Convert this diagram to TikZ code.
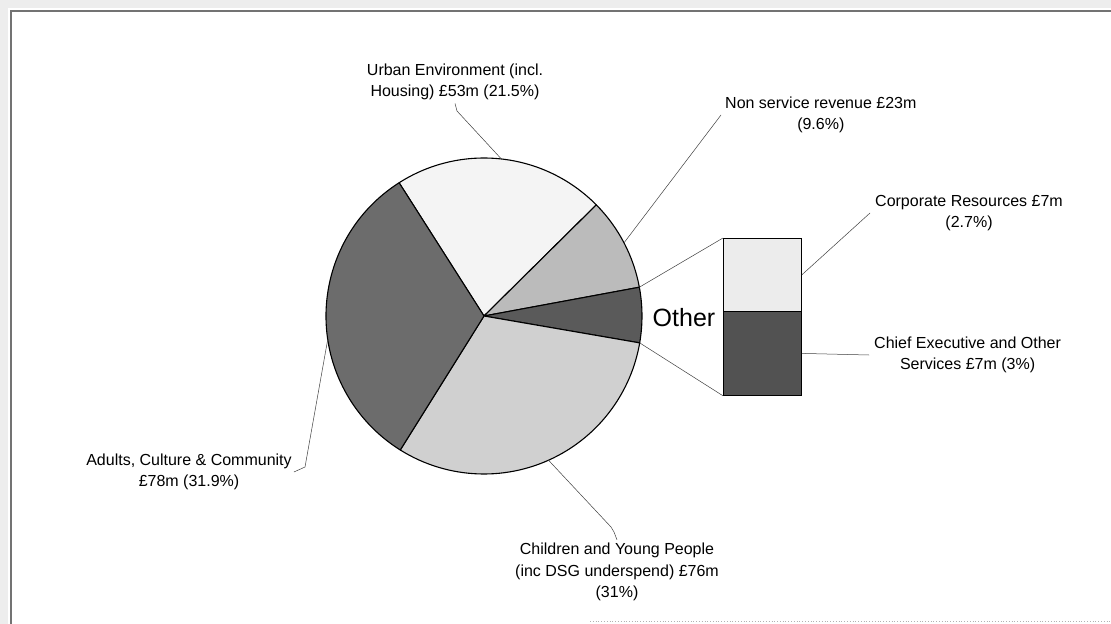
\documentclass[tikz,border=0pt]{standalone}
\usepackage{fontspec}
\setmainfont{Liberation Sans}
\definecolor{urbanc}{HTML}{F4F4F4}
\definecolor{nonsvcc}{HTML}{BBBBBB}
\definecolor{otherc}{HTML}{5A5A5A}
\definecolor{childc}{HTML}{D0D0D0}
\definecolor{adultsc}{HTML}{6C6C6C}
\definecolor{bartop}{HTML}{ECECEC}
\definecolor{barbot}{HTML}{525252}
\begin{document}
\begin{tikzpicture}[x=1bp,y=-1bp,
  lbl/.style={inner sep=0pt, align=center, font=\fontsize{16bp}{21.5bp}\selectfont},
  leader/.style={draw=black!75, line width=0.5bp},
  slice/.style={draw=black, line width=1.1bp, line join=round},
  barbox/.style={draw=black, line width=0.8bp, inner sep=0pt, minimum width=78bp, anchor=north west}]
\useasboundingbox (0,0) rectangle (1111,624);
\fill[white] (0,0) rectangle (1111,624);
% frame
\fill[black!7] (0,0) rectangle (1111,8);
\fill[black!7] (0,0) rectangle (8,624);
\draw[black!55, line width=1.3bp] (11,624) -- (11,11) -- (1111,11);
\draw[black!30, line width=0.8bp, dotted] (590,621) -- (1111,621);
% pie
\begin{scope}[shift={(484,316)}, yscale=-1]
  \filldraw[slice, fill=urbanc] (0,0) -- (44.7:158) arc[start angle=44.7, end angle=122.5, radius=158] -- cycle;
  \filldraw[slice, fill=nonsvcc] (0,0) -- (10.5:158) arc[start angle=10.5, end angle=44.7, radius=158] -- cycle;
  \filldraw[slice, fill=otherc] (0,0) -- (-9.8:158) arc[start angle=-9.8, end angle=10.5, radius=158] -- cycle;
  \filldraw[slice, fill=childc] (0,0) -- (-122:158) arc[start angle=-122, end angle=-9.8, radius=158] -- cycle;
  \filldraw[slice, fill=adultsc] (0,0) -- (122.5:158) arc[start angle=122.5, end angle=238, radius=158] -- cycle;
  \coordinate (pU) at (83.7:158);
  \coordinate (pN) at (27.6:158);
  \coordinate (pC) at (-65.9:158);
  \coordinate (pA) at (188.5:158);
  \coordinate (pO1) at (10.5:158);
  \coordinate (pO2) at (-9.8:158);
\end{scope}
% bar of pie
\node[barbox, fill=bartop, minimum height=73bp] (barT) at (723,238) {};
\node[barbox, fill=barbot, minimum height=84bp] (barB) at (723,311) {};
\draw[leader] (pO1) -- (barT.north west);
\draw[leader] (pO2) -- (barB.south west);
\node[inner sep=0pt, font=\fontsize{25bp}{30bp}\selectfont] (other) at (684,318) {Other};
% labels
\node[lbl] (urban) at (455,82) {Urban Environment (incl.\\Housing) £53m (21.5\%)};
\node[lbl, anchor=west] (nonsvc) at (725,115) {Non service revenue £23m\\(9.6\%)};
\node[lbl, anchor=west] (corp) at (875,213) {Corporate Resources £7m\\(2.7\%)};
\node[lbl, anchor=west] (chief) at (874,355) {Chief Executive and Other\\Services £7m (3\%)};
\node[lbl] (adults) at (189,472) {Adults, Culture \& Community\\£78m (31.9\%)};
\node[lbl] (child) at (617,572) {Children and Young People\\(inc DSG underspend) £76m\\(31\%)};
% leaders
\draw[leader] (pU) -- (457,111) -- ([yshift=-3bp]urban.south);
\draw[leader] (pN) -- ([xshift=-4bp]nonsvc.west);
\draw[leader] (barT.east) -- ([xshift=-5bp]corp.west);
\draw[leader] (barB.east) -- ([xshift=-5bp]chief.west);
\draw[leader] (pA) -- (305,467) -- ([xshift=2bp]adults.east);
\draw[leader] (pC) -- (611,527) -- (614,532) -- ([yshift=3bp]child.north);
\end{tikzpicture}
\end{document}
